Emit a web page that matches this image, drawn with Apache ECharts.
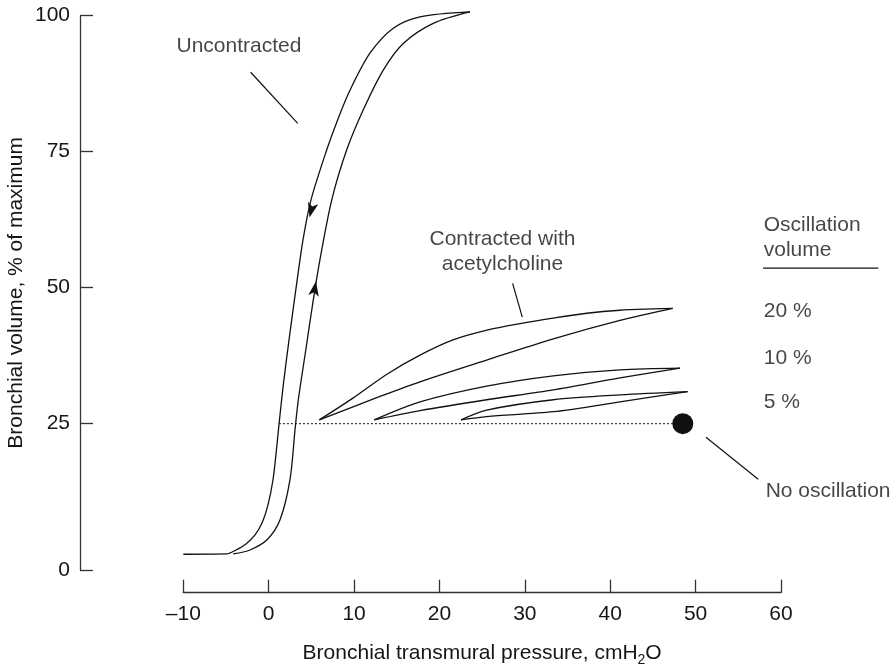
<!DOCTYPE html>
<html>
<head>
<meta charset="utf-8">
<script src="https://cdn.jsdelivr.net/npm/echarts@6/dist/echarts.min.js"></script>
<style>
  html, body { margin: 0; padding: 0; background: #fff; }
  #chart { width: 896px; height: 669px; }
</style>
</head>
<body>
<div id="chart"></div>
<script>
// axis ticks
var xTicks = [-10, 0, 10, 20, 30, 40, 50, 60];
// the "0" tick of the original sits a bit below the regular 25-step scale
var yBottom = -1.9;
var yTicks = [yBottom, 25, 50, 75, 100];
var yTickLabels = ['0', '25', '50', '75', '100'];

// uncontracted loop (deflation goes down the left branch, inflation up the right one)
var deflation = [[-10, 1], [-4.92, 1.05], [-3.83, 1.78], [-2.66, 2.89], [-1.6, 4.54], [-0.73, 6.93],
  [-0.08, 10.06], [0.5, 14.65], [0.91, 20.2], [1.21, 24.9], [1.74, 32.5], [2.49, 41.7],
  [3.29, 50.9], [4.02, 58.8], [4.95, 66.1], [6.79, 75.3], [8.06, 80.8], [9.52, 86.3],
  [11.86, 93.1], [14.59, 97.7], [17.72, 99.8], [23.57, 100.7]];
var inflation = [[-4.15, 1.05], [-2.19, 1.78], [-0.23, 3.6], [1.32, 7.3], [2.49, 14.65], [3.08, 23.8],
  [3.47, 29.4], [4.34, 38.5], [5.22, 47.7], [6.0, 55.1], [7.38, 66.1], [9.13, 75.3],
  [11.08, 82.7], [13.42, 90.0], [15.76, 94.9], [19.27, 98.6], [23.57, 100.7]];

// contracted with acetylcholine, one loop per oscillation volume
var loop20Upper = [[5.93, 25.7], [9.87, 29.7], [13.85, 34.1], [17.72, 37.6], [21.58, 40.4], [25.56, 42.2],
  [29.43, 43.4], [33.29, 44.4], [37.27, 45.3], [41.14, 45.85], [45.0, 46.1], [47.31, 46.2]];
var loop20Lower = [[5.93, 25.7], [13.03, 30.0], [17.72, 32.7], [25.53, 36.7], [33.33, 40.6], [41.14, 44.0], [47.31, 46.2]];
var loop10Upper = [[12.37, 25.7], [17.72, 29.0], [25.53, 31.9], [33.33, 33.8], [41.14, 34.9], [48.16, 35.2]];
var loop10Lower = [[12.37, 25.7], [17.72, 27.4], [25.53, 29.4], [33.33, 31.2], [41.14, 33.4], [48.16, 35.2]];
var loop5Upper = [[22.52, 25.7], [25.53, 27.5], [33.33, 29.4], [41.14, 30.3], [49.06, 30.9]];
var loop5Lower = [[22.52, 25.7], [25.53, 26.3], [33.33, 27.2], [41.14, 29.0], [49.06, 30.9]];

// no oscillation: single point, dotted reference back to the uncontracted curve
var noOscPoint = [[48.5, 25]];
var noOscRef = [[1.2, 25], [48.5, 25]];

// arrows on the uncontracted loop: [x, y, direction in degrees]
var arrows = [[4.78, 62.9, 166], [5.54, 51.2, -9.5]];

// leader lines from the labels: [x1, y1, x2, y2]
var leaders = [
  [-2.11, 89.6, 3.40, 80.2],
  [28.57, 50.8, 29.70, 44.6],
  [51.21, 22.5, 57.33, 14.8],
  [57.9, 53.6, 71.4, 53.6] // underline of "Oscillation volume"
];

// annotation texts
var centeredNotes = [
  ['Uncontracted', -3.48, 94.4],
  ['Contracted with\nacetylcholine', 27.38, 56.7]
];
var leftNotes = [
  ['Oscillation\nvolume', 57.98, 59.1],
  ['20 %', 57.98, 45.6],
  ['10 %', 57.98, 37.0],
  ['5 %', 57.98, 29.0],
  ['No oscillation', 58.2, 12.6]
];

var ink = '#111';
var textColor = '#161616';
var fontFamily = 'Liberation Sans, Arial, sans-serif';

function curve (data) {
  return {
    type: 'line',
    data: data,
    smooth: 0.3,
    symbol: 'none',
    clip: false,
    lineStyle: { color: ink, width: 1.3 },
    silent: true
  };
}

function notes (list, align) {
  return {
    type: 'scatter',
    symbolSize: 0,
    silent: true,
    clip: false,
    data: list.map(function (n) { return { value: [n[1], n[2]], name: n[0] }; }),
    label: {
      show: true,
      position: 'inside',
      formatter: '{b}',
      color: textColor,
      fontSize: 21,
      lineHeight: 25,
      fontFamily: fontFamily,
      align: align,
      verticalAlign: 'middle'
    }
  };
}

var chart = echarts.init(document.getElementById('chart'));

var series = [
  curve(deflation),
  curve(inflation),
  curve(loop20Upper),
  curve(loop20Lower),
  curve(loop10Upper),
  curve(loop10Lower),
  curve(loop5Upper),
  curve(loop5Lower),
  {
    type: 'line',
    data: noOscRef,
    symbol: 'none',
    lineStyle: { color: ink, width: 1, type: [2, 2] },
    silent: true
  },
  {
    type: 'scatter',
    data: noOscPoint,
    symbolSize: 21,
    itemStyle: { color: ink, opacity: 1 },
    silent: true
  },
  {
    type: 'scatter',
    data: arrows.map(function (a) { return [a[0], a[1]]; }),
    symbol: 'arrow',
    symbolSize: [8, 15],
    symbolRotate: function (val, params) { return arrows[params.dataIndex][2]; },
    itemStyle: { color: ink, opacity: 1 },
    silent: true
  },
  {
    type: 'custom',
    silent: true,
    clip: false,
    data: leaders,
    encode: { x: [0, 2], y: [1, 3] },
    renderItem: function (params, api) {
      var p1 = api.coord([api.value(0), api.value(1)]);
      var p2 = api.coord([api.value(2), api.value(3)]);
      return {
        type: 'line',
        shape: { x1: p1[0], y1: p1[1], x2: p2[0], y2: p2[1] },
        style: { stroke: ink, lineWidth: 1.2 }
      };
    }
  },
  notes(centeredNotes, 'center'),
  notes(leftNotes, 'left')
];

chart.setOption({
  animation: false,
  backgroundColor: '#fff',
  grid: { left: 183.3, right: 115, top: 15.7, bottom: 99, outerBoundsMode: 'none' },
  xAxis: {
    type: 'value',
    min: xTicks[0],
    max: xTicks[xTicks.length - 1],
    interval: 10,
    offset: 22.7,
    splitLine: { show: false },
    axisLine: { onZero: false, lineStyle: { color: '#333', width: 1.3 } },
    axisTick: { inside: true, length: 13, lineStyle: { color: '#333', width: 1.3 } },
    axisLabel: {
      color: textColor,
      fontSize: 21,
      fontFamily: fontFamily,
      margin: 11,
      formatter: function (v) { return v < 0 ? '\u2013' + Math.abs(v) : String(v); }
    },
    name: 'Bronchial transmural pressure, cmH{sub|2}O',
    nameLocation: 'middle',
    nameGap: 48,
    nameTextStyle: {
      color: textColor,
      fontSize: 21,
      fontFamily: fontFamily,
      verticalAlign: 'top',
      rich: { sub: { fontSize: 14, fontFamily: fontFamily, color: textColor, verticalAlign: 'bottom', padding: [12, 0, 0, 0] } }
    }
  },
  yAxis: {
    type: 'value',
    min: yBottom,
    max: 100,
    offset: 103.3,
    splitLine: { show: false },
    axisLine: { onZero: false, lineStyle: { color: '#333', width: 1.3 } },
    axisTick: { inside: true, length: 13, customValues: yTicks, lineStyle: { color: '#333', width: 1.3 } },
    axisLabel: {
      color: textColor,
      fontSize: 21,
      fontFamily: fontFamily,
      margin: 10,
      customValues: yTicks,
      formatter: function (v) { return yTickLabels[yTicks.indexOf(v)]; }
    },
    name: 'Bronchial volume, % of maximum',
    nameLocation: 'middle',
    nameMoveOverlap: false,
    nameGap: 53,
    nameTextStyle: { color: textColor, fontSize: 21, fontFamily: fontFamily }
  },
  series: series
});
</script>
</body>
</html>
